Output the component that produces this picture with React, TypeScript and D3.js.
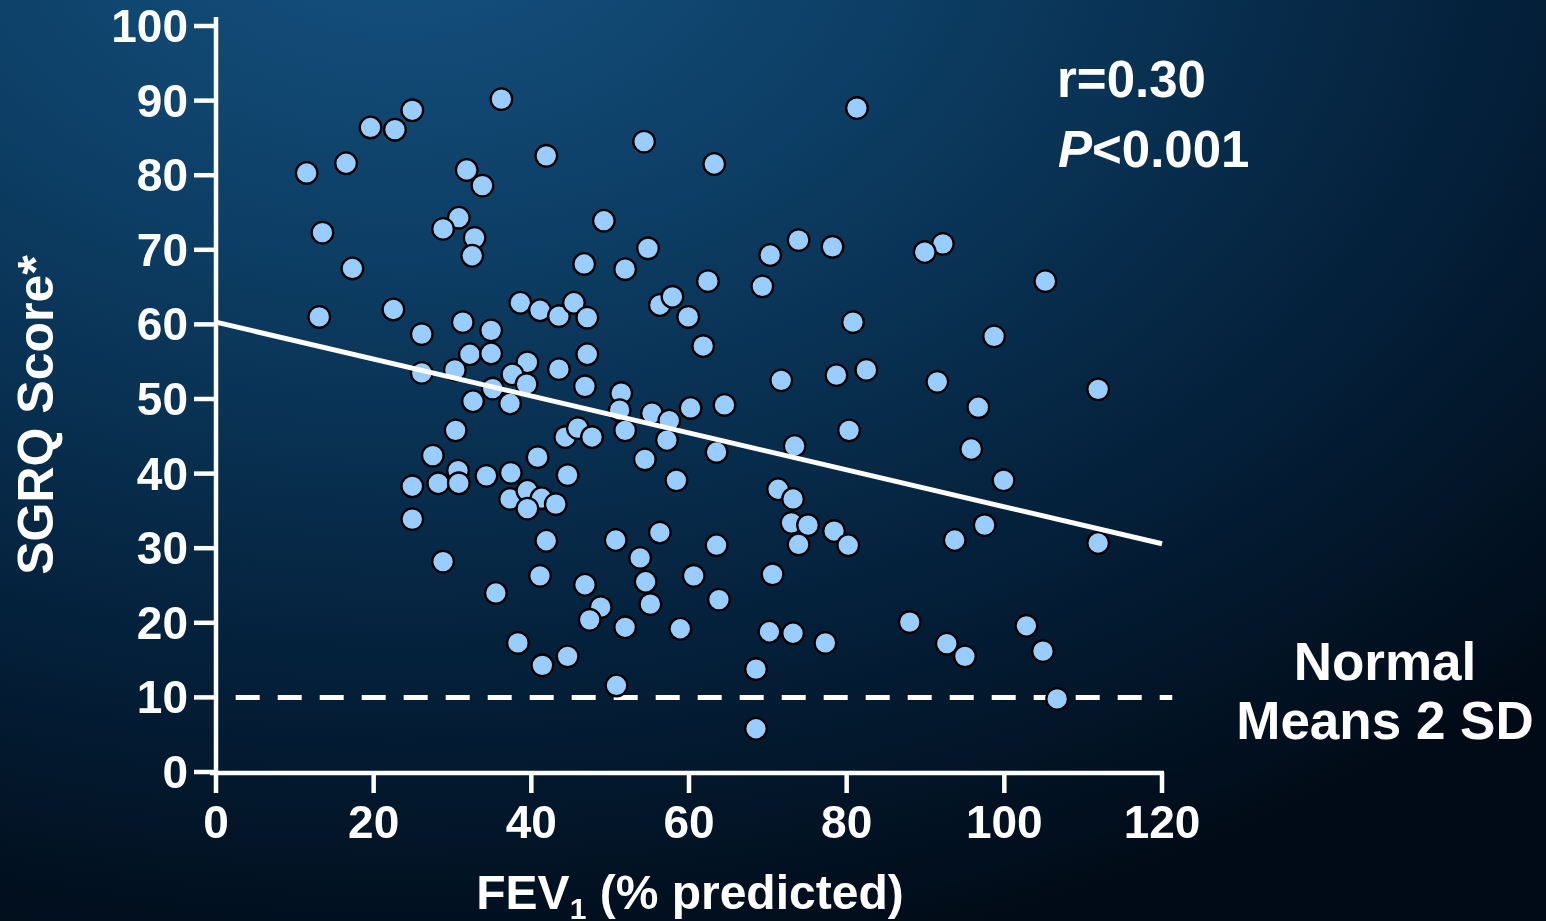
import React from "react";
import * as d3 from "d3";

const W = 1546;
const H = 921;

const fev1: number[] = [
  11.5, 16.5, 19.6, 22.7, 24.9, 36.2, 41.9, 31.8, 33.8, 13.5, 30.8, 28.8, 32.8, 32.5, 17.3, 13.1, 22.5, 26.1, 31.3, 34.9,
  38.6, 41.1, 43.5, 45.4, 47.1, 46.7, 32.2, 34.9, 26.1, 30.3, 39.5, 37.6, 39.4, 43.5, 47.1, 46.8, 35.1, 32.6, 37.3, 30.4,
  27.5, 24.9, 28.2, 30.7, 30.8, 34.3, 37.4, 40.8, 44.3, 45.9, 44.6, 37.3, 39.5, 41.3, 39.5, 43.1, 24.9, 41.9, 28.8, 41.1,
  35.5, 38.3, 41.4, 44.6, 46.8, 54.3, 63.2, 81.3, 49.2, 51.9, 54.8, 62.4, 70.3, 73.9, 78.2, 69.3, 56.3, 57.9, 59.9, 61.8,
  51.4, 51.2, 55.3, 60.2, 64.5, 71.7, 78.7, 80.8, 57.5, 47.7, 51.9, 57.2, 54.4, 63.5, 73.4, 80.3, 58.4, 71.3, 73.2, 73.0,
  75.1, 73.9, 78.4, 80.2, 50.7, 56.3, 53.8, 63.5, 54.5, 60.6, 70.6, 48.8, 47.4, 55.1, 63.8, 51.9, 58.9, 70.2, 73.2, 77.3,
  68.5, 50.8, 68.5, 92.2, 89.9, 105.2, 98.7, 82.5, 91.5, 111.9, 96.7, 95.8, 99.9, 93.7, 97.5, 111.9, 88.0, 92.7, 95.0, 102.8,
  104.9, 106.7,
];

const sgrq: number[] = [
  80.3, 81.6, 86.4, 86.1, 88.7, 90.2, 82.6, 80.7, 78.6, 72.3, 74.3, 72.8, 71.6, 69.2, 67.5, 61.0, 62.0, 58.7, 60.3, 59.2,
  62.9, 61.9, 61.1, 62.9, 60.9, 68.1, 56.0, 56.1, 53.5, 53.9, 54.9, 53.3, 52.0, 54.0, 56.0, 51.7, 51.4, 49.7, 49.4, 45.8,
  42.4, 38.3, 38.7, 40.4, 38.7, 39.7, 40.1, 42.2, 44.9, 46.1, 39.8, 36.6, 37.7, 36.7, 35.3, 35.9, 33.9, 31.0, 28.2, 26.3,
  24.0, 17.3, 14.3, 15.5, 25.1, 84.5, 81.5, 89.0, 73.9, 67.4, 70.2, 65.8, 69.3, 71.3, 70.4, 65.1, 62.6, 63.7, 61.0, 57.1,
  50.8, 48.5, 48.1, 48.8, 49.2, 52.5, 53.2, 60.3, 47.1, 44.9, 45.8, 44.5, 41.9, 42.9, 43.7, 45.8, 39.1, 37.9, 36.6, 33.4,
  33.1, 30.5, 32.3, 30.4, 31.1, 32.1, 28.7, 30.4, 25.5, 26.3, 26.5, 22.1, 20.4, 22.5, 23.1, 19.4, 19.2, 18.8, 18.6, 17.3,
  13.8, 11.6, 5.8, 70.8, 69.7, 65.8, 58.4, 53.9, 52.3, 51.3, 48.9, 43.3, 39.1, 31.1, 33.1, 30.7, 20.1, 17.2, 15.5, 19.6,
  16.2, 9.8,
];

const xTicks: number[] = [0, 20, 40, 60, 80, 100, 120];
const yTicks: number[] = [0, 10, 20, 30, 40, 50, 60, 70, 80, 90, 100];

const fitX: number[] = [0, 120];
const fitY: number[] = [60.3, 30.6];

const normalX: number[] = [2.5, 121.3];
const normalY: number[] = [10, 10];

const FONT = "'Liberation Sans', Arial, Helvetica, sans-serif";

export default function App() {
  const x = d3.scaleLinear().domain([0, 120]).range([216, 1162]);
  const y = d3.scaleLinear().domain([0, 100]).range([772, 26]);

  const line = d3
    .line<[number, number]>()
    .x((d) => x(d[0]))
    .y((d) => y(d[1]));

  const fitPts: [number, number][] = fitX.map((v, i) => [v, fitY[i]]);
  const normPts: [number, number][] = normalX.map((v, i) => [v, normalY[i]]);
  const pts = fev1.map((v, i) => ({ x: v, y: sgrq[i] }));

  const axisW = 4.5;

  return (
    <svg
      width={W}
      height={H}
      style={{ position: "fixed", left: 0, top: 0, display: "block" }}
      fontFamily={FONT}
    >
      <defs>
        <radialGradient
          id="bg"
          gradientUnits="userSpaceOnUse"
          cx={400}
          cy={-100}
          r={1100}
          gradientTransform="translate(400,-100) scale(1.45,1) translate(-400,100)"
        >
          <stop offset="0" stopColor="#155381" />
          <stop offset="0.35" stopColor="#0c3c62" />
          <stop offset="0.7" stopColor="#04203a" />
          <stop offset="1" stopColor="#010b17" />
        </radialGradient>
      </defs>
      <rect x={0} y={0} width={W} height={H} fill="url(#bg)" />

      {/* axes */}
      <line x1={x(0)} y1={17} x2={x(0)} y2={y(0) + 2} stroke="#fff" strokeWidth={axisW} />
      <line x1={x(0) - 6} y1={y(0) + 1} x2={x(120) + 2} y2={y(0) + 1} stroke="#fff" strokeWidth={axisW} />
      {yTicks.map((t) => (
        <g key={"y" + t}>
          <line x1={x(0) - 22} x2={x(0)} y1={y(t)} y2={y(t)} stroke="#fff" strokeWidth={axisW} />
          <text
            x={188}
            y={y(t) + 16}
            textAnchor="end"
            fill="#fff"
            fontWeight="bold"
            fontSize={46}
          >
            {t}
          </text>
        </g>
      ))}
      {xTicks.map((t) => (
        <g key={"x" + t}>
          <line x1={x(t)} x2={x(t)} y1={y(0)} y2={y(0) + 21} stroke="#fff" strokeWidth={axisW} />
          <text x={x(t)} y={838} textAnchor="middle" fill="#fff" fontWeight="bold" fontSize={46}>
            {t}
          </text>
        </g>
      ))}

      {/* normal limit */}
      <path
        d={line(normPts) || ""}
        stroke="#fff"
        strokeWidth={5}
        strokeDasharray="24 18"
        fill="none"
      />

      {/* points */}
      {pts.map((p, i) => (
        <circle key={i} cx={x(p.x)} cy={y(p.y)} r={10.8} fill="#99ccff" stroke="#000" strokeWidth={2.3} />
      ))}

      {/* regression */}
      <path d={line(fitPts) || ""} stroke="#fff" strokeWidth={5} fill="none" />

      {/* axis titles */}
      <text x={690} y={909} textAnchor="middle" fill="#fff" fontWeight="bold" fontSize={48}>
        FEV
        <tspan fontSize={30} dy={10}>1</tspan>
        <tspan dy={-10}> (% predicted)</tspan>
      </text>
      <text
        transform="translate(53,415) rotate(-90)"
        textAnchor="middle"
        fill="#fff"
        fontWeight="bold"
        fontSize={50}
      >
        SGRQ Score*
      </text>

      {/* annotations */}
      <text x={1057} y={97} fill="#fff" fontWeight="bold" fontSize={51}>
        r=0.30
      </text>
      <text x={1058} y={167} fill="#fff" fontWeight="bold" fontSize={51}>
        <tspan fontStyle="italic">P</tspan>
        &lt;0.001
      </text>
      <text x={1385} y={680} textAnchor="middle" fill="#fff" fontWeight="bold" fontSize={53}>
        Normal
      </text>
      <text x={1385} y={739} textAnchor="middle" fill="#fff" fontWeight="bold" fontSize={53}>
        Means 2 SD
      </text>
    </svg>
  );
}
